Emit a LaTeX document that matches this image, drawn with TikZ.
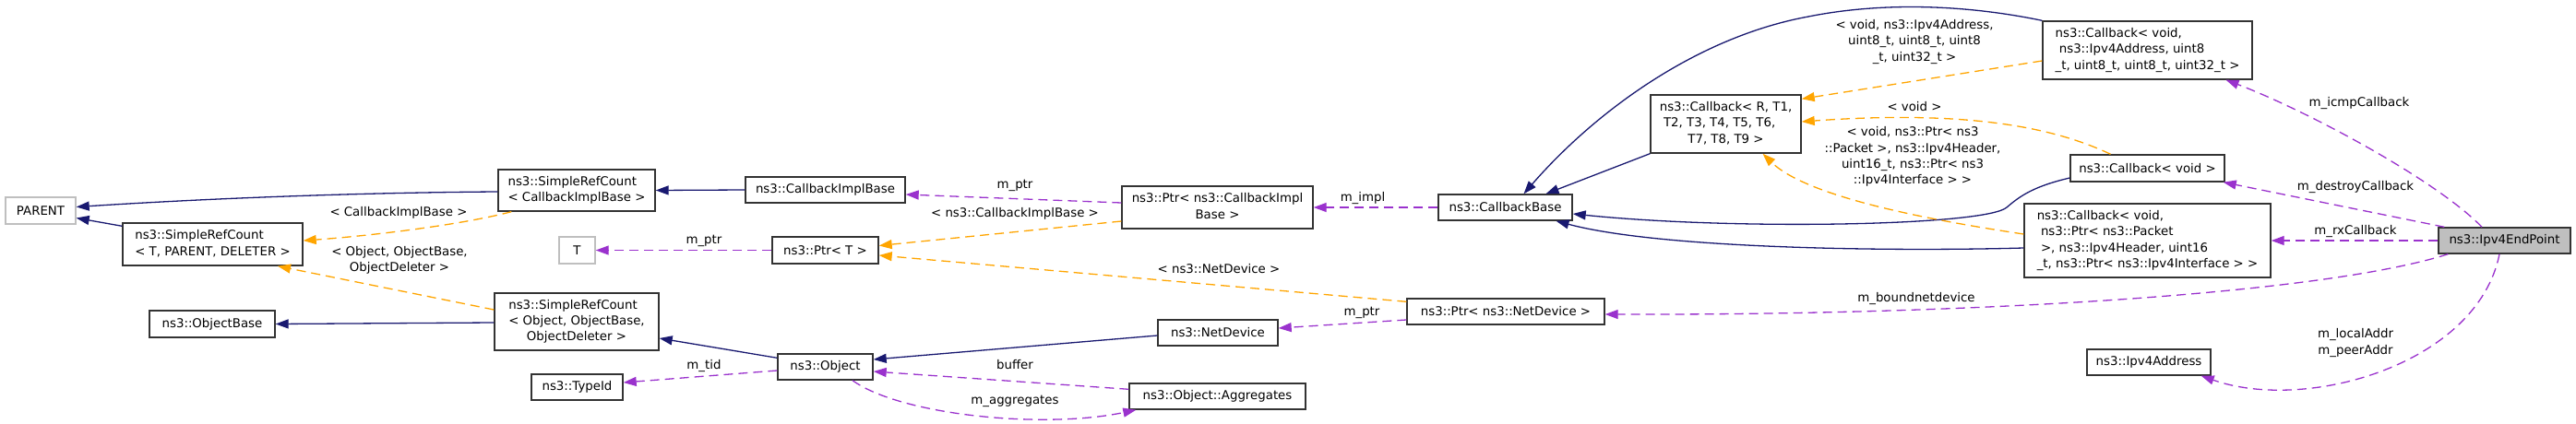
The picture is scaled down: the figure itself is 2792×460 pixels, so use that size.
\documentclass[tikz,border=0pt]{standalone}
\usepackage{fontspec}
\setmainfont{DejaVu Sans}
\usetikzlibrary{arrows.meta}
\definecolor{edgeblue}{HTML}{191970}
\definecolor{tplorange}{HTML}{FFA500}
\definecolor{useviolet}{HTML}{9A32CD}
\definecolor{nodegray}{HTML}{BFBFBF}
\newcommand{\ctrline}[1]{\multicolumn{1}{@{}c@{}}{#1}}

\begin{document}
\begin{tikzpicture}[x=1pt,y=-1pt,
  font=\fontsize{13.33}{17.3}\selectfont,
  cls/.style={draw=black!80,line width=1.4pt,fill=white,inner sep=0pt,minimum height=28pt},
  ext/.style={cls,draw=nodegray},
  cur/.style={cls,fill=nodegray},
  lbl/.style={inner sep=0pt,align=center},
  inh/.style={draw=edgeblue,line width=1.3pt,-{Triangle[length=14pt,width=10pt]}},
  tpl/.style={draw=tplorange,line width=1.3pt,dash pattern=on 10pt off 6pt,-{Triangle[length=14pt,width=10pt]}},
  use/.style={draw=useviolet,line width=1.3pt,dash pattern=on 10pt off 6pt,-{Triangle[length=14pt,width=10pt]}}]
\useasboundingbox (0,0) rectangle (2792,460);

% classes
\node[ext,minimum width=76pt,minimum height=29pt] (parent) at (44,228.5) {PARENT};
\node[cls,minimum width=195pt,minimum height=46pt] (srct) at (230.5,265) {\begin{tabular}{@{}l@{}}ns3::SimpleRefCount\\\ctrline{< T, PARENT, DELETER >}\end{tabular}};
\node[cls,minimum width=170pt,minimum height=45pt] (srccib) at (625,206.5) {\begin{tabular}{@{}l@{}}ns3::SimpleRefCount\\\ctrline{< CallbackImplBase >}\end{tabular}};
\node[cls,minimum width=173pt] (cib) at (894.5,206) {ns3::CallbackImplBase};
\node[ext,minimum width=39pt,minimum height=29pt] (tparam) at (625.5,271.5) {T};
\node[cls,minimum width=115pt,minimum height=29pt] (ptrt) at (894.5,271.5) {ns3::Ptr< T >};
\node[cls,minimum width=178pt,minimum height=62pt] (srcobj) at (625,349) {\begin{tabular}{@{}l@{}}ns3::SimpleRefCount\\< Object, ObjectBase,\\\ctrline{ObjectDeleter >}\end{tabular}};
\node[cls,minimum width=136pt,minimum height=29pt] (objbase) at (230,351.5) {ns3::ObjectBase};
\node[cls,minimum width=103pt] (object) at (894.5,398) {ns3::Object};
\node[cls,minimum width=99pt] (typeid) at (625.5,420) {ns3::TypeId};
\node[cls,minimum width=207pt,minimum height=46pt] (ptrcib) at (1319.5,225) {\begin{tabular}{@{}l@{}}ns3::Ptr< ns3::CallbackImpl\\\ctrline{Base >}\end{tabular}};
\node[cls,minimum width=130pt] (netdev) at (1320,361) {ns3::NetDevice};
\node[cls,minimum width=191pt] (aggr) at (1319.5,430) {ns3::Object::Aggregates};
\node[cls,minimum width=145pt] (cbbase) at (1631.5,225) {ns3::CallbackBase};
\node[cls,minimum width=163pt,minimum height=63pt] (cbgen) at (1870.5,134.5) {\begin{tabular}{@{}l@{}}ns3::Callback< R, T1,\\\ T2, T3, T4, T5, T6,\\\ctrline{T7, T8, T9 >}\end{tabular}};
\node[cls,minimum width=214pt] (ptrnd) at (1632,338) {ns3::Ptr< ns3::NetDevice >};
\node[cls,minimum width=227pt,minimum height=63pt] (cbicmp) at (2327.5,54.5) {\begin{tabular}{@{}l@{}}ns3::Callback< void,\\\ ns3::Ipv4Address, uint8\\\ctrline{\_t, uint8\_t, uint8\_t, uint32\_t >}\end{tabular}};
\node[cls,minimum width=167pt,minimum height=29pt] (cbvoid) at (2327.5,182.5) {ns3::Callback< void >};
\node[cls,minimum width=267pt,minimum height=80pt] (cbrx) at (2327.5,261) {\begin{tabular}{@{}l@{}}ns3::Callback< void,\\\ ns3::Ptr< ns3::Packet\\\ >, ns3::Ipv4Header, uint16\\\ctrline{\_t, ns3::Ptr< ns3::Ipv4Interface > >}\end{tabular}};
\node[cls,minimum width=134pt] (addr) at (2329,393) {ns3::Ipv4Address};
\node[cur,minimum width=143pt] (endpt) at (2714.5,261) {ns3::Ipv4EndPoint};

% inheritance
\draw[inh] ([shift={(0,1.5)}]srccib.west) .. controls (390,209) and (230,215) .. ([shift={(0,-4)}]parent.east);
\draw[inh] ([shift={(0,4)}]srct.north west) -- ([shift={(0,8)}]parent.east);
\draw[inh] (cib.west) -- (srccib.east);
\draw[inh] ([shift={(0,1)}]srcobj.west) -- (objbase.east);
\draw[inh] ([shift={(0,5)}]object.north west) -- ([shift={(0,18)}]srcobj.east);
\draw[inh] ([shift={(0,3)}]netdev.west) -- ([shift={(0,-8)}]object.east);
\draw[inh] (cbgen.south west) -- ([shift={(44,0)}]cbbase.north);
\draw[inh] (cbicmp.north west) .. controls (2130,5) and (2040,2) .. (1960,18) .. controls (1840,40) and (1730,120) .. ([shift={(20,0)}]cbbase.north);
\draw[inh] ([shift={(0,10.5)}]cbvoid.west) .. controls (2205,202) and (2190,212) .. (2175,225) .. controls (2152,245) and (1880,250) .. ([shift={(0,7)}]cbbase.east);
\draw[inh] ([shift={(0,8)}]cbrx.west) .. controls (2050,273) and (1800,270) .. ([shift={(55,0)}]cbbase.south);

% template instances
\draw[tpl] ([shift={(15,0)}]srccib.south west) .. controls (500,244) and (400,256) .. ([shift={(0,-4)}]srct.east);
\draw[tpl] ([shift={(0,-13)}]srcobj.west) -- ([shift={(70.5,0)}]srct.south);
\draw[tpl] ([shift={(0,15)}]ptrcib.west) -- ([shift={(0,-5)}]ptrt.east);
\draw[tpl] ([shift={(0,4)}]ptrnd.north west) -- ([shift={(0,5.5)}]ptrt.east);
\draw[tpl] ([shift={(0,11.5)}]cbicmp.west) -- ([shift={(0,5)}]cbgen.north east);
\draw[tpl] ([shift={(-40,0)}]cbvoid.north) .. controls (2220,135) and (2120,120) .. ([shift={(0,-2.5)}]cbgen.east);
\draw[tpl] ([shift={(0,-7)}]cbrx.west) .. controls (2100,240) and (1960,215) .. ([shift={(40,0)}]cbgen.south);

% members
\draw[use] ([shift={(0,4)}]object.west) -- ([shift={(0,-5)}]typeid.east);
\draw[use] ([shift={(0,7)}]aggr.north west) -- ([shift={(0,5)}]object.east);
\draw[use] ([shift={(29.5,0)}]object.south) .. controls (975,450) and (1130,466) .. ([shift={(8,0)}]aggr.south west);
\draw[use] (ptrt.west) -- (tparam.east);
\draw[use] ([shift={(0,-5)}]ptrcib.west) -- ([shift={(0,5)}]cib.east);
\draw[use] ([shift={(0,9)}]ptrnd.west) -- ([shift={(0,-5)}]netdev.east);
\draw[use] (cbbase.west) -- (ptrcib.east);
\draw[use] ([shift={(-24.5,0)}]endpt.north) .. controls (2640,195) and (2500,120) .. ([shift={(85,0)}]cbicmp.south);
\draw[use] ([shift={(7,0)}]endpt.north west) -- ([shift={(-2,0)}]cbvoid.south east);
\draw[use] (endpt.west) -- (cbrx.east);
\draw[use] ([shift={(11,0)}]endpt.south west) .. controls (2520,318) and (2150,342) .. ([shift={(0,3)}]ptrnd.east);
\draw[use] ([shift={(-5.5,0)}]endpt.south) .. controls (2685,395) and (2500,448) .. ([shift={(-11,0)}]addr.south east);

% labels
\node[lbl] (lsrccib) at (432,231) {< CallbackImplBase >};
\node[lbl] (lsrcobj) at (433,282) {< Object, ObjectBase,\\ObjectDeleter >};
\node[lbl] (lptrt) at (763,261) {m\_ptr};
\node[lbl] (ltid) at (763,397) {m\_tid};
\node[lbl] (lptrcib) at (1100,201) {m\_ptr};
\node[lbl] (ltplcib) at (1100,232) {< ns3::CallbackImplBase >};
\node[lbl] (ltplnd) at (1321,292) {< ns3::NetDevice >};
\node[lbl] (lbuffer) at (1100,396) {buffer};
\node[lbl] (laggr) at (1100,435) {m\_aggregates};
\node[lbl] (lptrnd) at (1476,339) {m\_ptr};
\node[lbl] (limpl) at (1477,215) {m\_impl};
\node[lbl] (ltplicmp) at (2075,45.5) {< void, ns3::Ipv4Address,\\uint8\_t, uint8\_t, uint8\\\_t, uint32\_t >};
\node[lbl] (ltplvoid) at (2075,116) {< void >};
\node[lbl] (ltplrx) at (2073,170) {< void, ns3::Ptr< ns3\\::Packet >, ns3::Ipv4Header,\\uint16\_t, ns3::Ptr< ns3\\::Ipv4Interface > >};
\node[lbl] (licmp) at (2557,112) {m\_icmpCallback};
\node[lbl] (ldestroy) at (2553,203) {m\_destroyCallback};
\node[lbl] (lrx) at (2553,251) {m\_rxCallback};
\node[lbl] (lbound) at (2077,324) {m\_boundnetdevice};
\node[lbl] (laddr) at (2553,372) {m\_localAddr\\m\_peerAddr};
\end{tikzpicture}
\end{document}
